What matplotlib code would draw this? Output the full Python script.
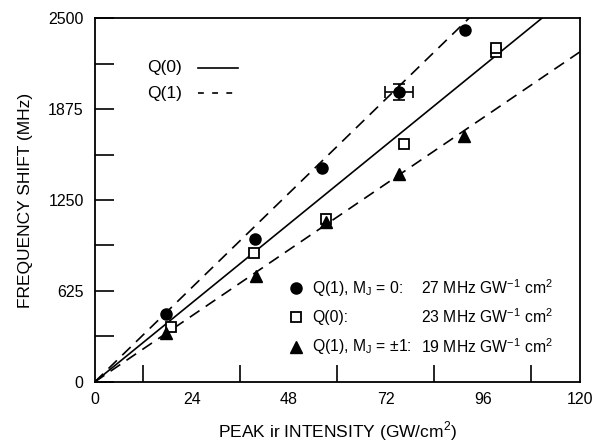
import matplotlib.pyplot as plt
import numpy as np

plt.rcParams['font.family'] = ['Liberation Sans', 'DejaVu Sans']

# data
x_mj0 = [17.5, 39.6, 56.2, 75.3, 91.6]
y_mj0 = [467, 980, 1470, 1990, 2415]
x_q0 = [18.8, 39.4, 57.2, 76.5, 99.3, 99.3]
y_q0 = [378, 884, 1120, 1635, 2268, 2292]
x_mj1 = [17.7, 39.9, 57.3, 75.3, 91.3]
y_mj1 = [334, 728, 1100, 1432, 1690]

err_x = 75.3
err_y = 1990
err_dx = 3.5
err_dy = 55

slope_mj0 = 27.0
slope_q0 = 22.6
slope_mj1 = 18.9

fig = plt.figure(figsize=(5.96, 4.42), dpi=100)
ax = fig.add_axes([0.159, 0.136, 0.814, 0.823])

xx = np.array([0, 120])
dash = (0, (7, 4.5))
ax.plot(xx, slope_mj0 * xx, color='black', lw=1.2, linestyle=dash)
ax.plot(xx, slope_q0 * xx, color='black', lw=1.2)
ax.plot(xx, slope_mj1 * xx, color='black', lw=1.2, linestyle=dash)

ax.plot(x_mj0, y_mj0, 'o', color='black', ms=8)
ax.plot(x_q0, y_q0, 's', mfc='white', mec='black', mew=1.3, ms=6.5)
ax.plot(x_mj1, y_mj1, '^', color='black', ms=8)
ax.errorbar([err_x], [err_y], xerr=err_dx, yerr=err_dy, fmt='none',
            ecolor='black', elinewidth=1.2, capsize=4, capthick=1.2)

ax.set_xlim(0, 120)
ax.set_ylim(0, 2500)
ax.set_xticks(np.arange(0, 121, 24))
ax.set_xticks(np.arange(12, 120, 12), minor=True)
ax.set_yticks(np.arange(0, 2501, 625))
ax.set_yticks(np.arange(312.5, 2500, 625), minor=True)
ax.tick_params(axis='both', which='both', direction='in', labelsize=11.5,
               width=1.2, color='black')
ax.tick_params(axis='x', which='major', length=0, pad=7)
ax.tick_params(axis='x', which='minor', length=12)
ax.tick_params(axis='y', which='major', length=14, pad=8)
ax.tick_params(axis='y', which='minor', length=14)
for s in ax.spines.values():
    s.set_linewidth(1.3)

ax.set_xlabel('PEAK ir INTENSITY (GW/cm$^\\mathregular{2}$)', fontsize=12.5, labelpad=9)
ax.set_ylabel('FREQUENCY SHIFT (MHz)', fontsize=12.5, labelpad=11)

# legend for line styles
ax.text(0.108, 0.864, 'Q(0)', transform=ax.transAxes, fontsize=12.5, va='center')
ax.plot([0.212, 0.295], [0.864, 0.864], transform=ax.transAxes, color='black', lw=1.2)
ax.text(0.108, 0.793, 'Q(1)', transform=ax.transAxes, fontsize=12.5, va='center')
ax.plot([0.212, 0.295], [0.793, 0.793], transform=ax.transAxes, color='black', lw=1.2,
        linestyle=(0, (3.5, 5)))

# legend for markers
rows = [0.258, 0.178, 0.096]
names = ['Q(1), M$_\\mathregular{J}$ = 0:', 'Q(0):', 'Q(1), M$_\\mathregular{J}$ = \u00b11:']
rates = ['27', '23', '19']
mk = [dict(marker='o', color='black', ms=8),
      dict(marker='s', mfc='white', mec='black', mew=1.3, ms=6.5),
      dict(marker='^', color='black', ms=8)]
for r, n, v, m in zip(rows, names, rates, mk):
    ax.plot([0.414], [r], transform=ax.transAxes, linestyle='none', **m)
    ax.text(0.448, r, n, transform=ax.transAxes, fontsize=11.3, va='center')
    ax.text(0.672, r, v + ' MHz GW$^{\\mathregular{-1}}$ cm$^\\mathregular{2}$',
            transform=ax.transAxes, fontsize=11.3, va='center')

plt.savefig('out.png', dpi=100)
